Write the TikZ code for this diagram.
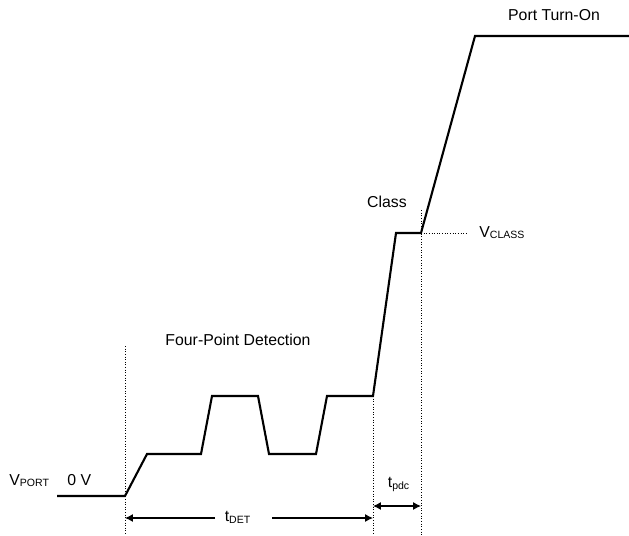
\documentclass[tikz,border=0pt]{standalone}
\usepackage{fontspec}
\setmainfont{Liberation Sans}
\usetikzlibrary{arrows.meta}
\tikzset{
    wave/.style={line width=1.2pt, line join=miter},
    guide/.style={densely dotted, line width=0.5pt},
    dimline/.style={line width=0.6pt},
    lbl/.style={font=\fontsize{9}{11}\selectfont, inner sep=0pt}
}
\begin{document}
\begin{tikzpicture}[>={Latex[length=4.5pt,width=4.5pt]}, x=0.02cm, y=-0.02cm]
\useasboundingbox (0,0) rectangle (629,535);
% corners of the port voltage
\foreach \n/\x/\y in {p0/57/496, p1/125/496, p2/147/454, p3/201/454, p4/212/396,
    p5/258/396, p6/269/454, p7/316/454, p8/327/396, p9/373/396,
    p10/396/233, p11/421/233, p12/475/36, p13/632/36}
{
    \coordinate (\n) at (\x,\y);
}
\draw[wave] (p0)--(p1)--(p2)--(p3)--(p4)--(p5)--(p6)--(p7)--(p8)--(p9)--(p10)--(p11)--(p12)--(p13);

% dotted guides
\coordinate (g1top) at (125,346);
\coordinate (g1bot) at (125,535);
\coordinate (g2bot) at (373,535);
\coordinate (g3top) at (421,210);
\coordinate (g3bot) at (421,535);
\coordinate (vcl) at (467,233);
\draw[guide] (g1top)--(g1bot);
\draw[guide] (p9)--(g2bot);
\draw[guide] (g3top)--(g3bot);
\draw[guide] (p11)--(vcl);

% labels
\node[lbl, anchor=base] (turnon) at (554,20) {Port Turn-On};
\node[lbl, anchor=base] (class) at (387,207) {Class};
\node[lbl, anchor=base west] (vclass) at (479,237) {V\textsubscript{CLASS}};
\node[lbl, anchor=base] (fourpt) at (238,345) {Four-Point Detection};
\node[lbl, anchor=base west] (vport) at (9,485) {V\textsubscript{PORT}};
\node[lbl, anchor=base west] (zero) at (67,485) {0 V};
\node[lbl, anchor=base] (tpdc) at (399,487) {t\textsubscript{pdc}};
\node[lbl] (tdet) at (238,517) {t\textsubscript{DET}};

% time spans
\coordinate (detA) at (125,518);
\coordinate (detB) at (373,518);
\coordinate (gapL) at (215,518);
\coordinate (gapR) at (272,518);
\draw[dimline, ->] (gapL)--(detA);
\draw[dimline, ->] (gapR)--(detB);
\coordinate (pdcA) at (373,506);
\coordinate (pdcB) at (421,506);
\draw[dimline, <->] (pdcA)--(pdcB);
\end{tikzpicture}
\end{document}
